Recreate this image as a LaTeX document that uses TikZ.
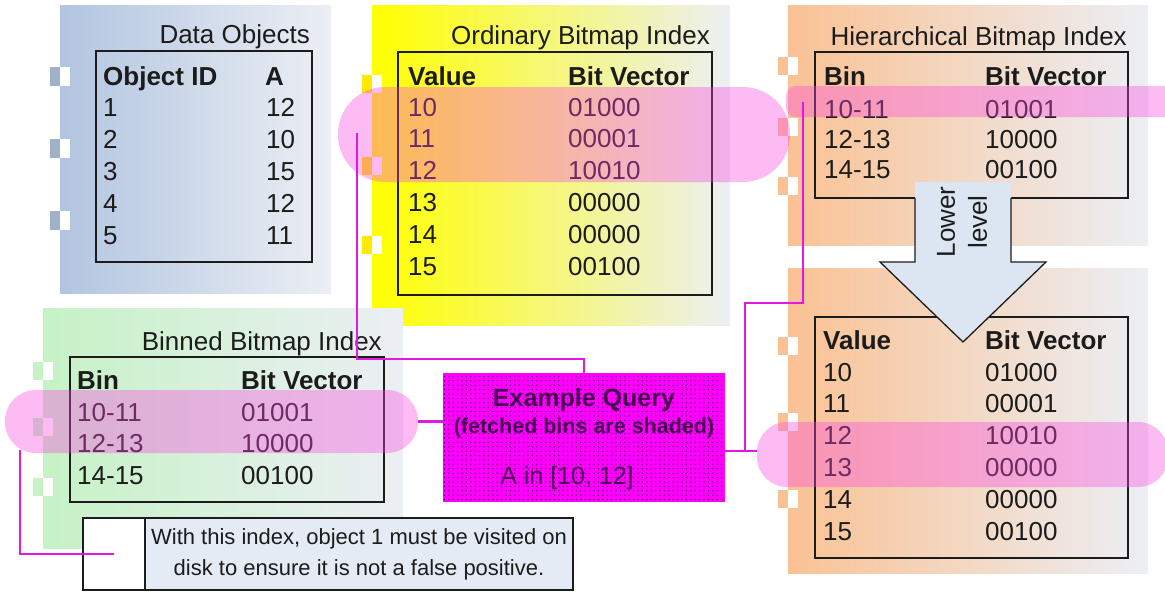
\documentclass[tikz,border=0pt]{standalone}
\usepackage{fontspec}
\setmainfont{Liberation Sans}
\usetikzlibrary{patterns.meta}

\definecolor{ink}{RGB}{28,28,28}
\definecolor{panelend}{RGB}{236,239,244}
\definecolor{bluepanel}{RGB}{178,197,224}
\definecolor{greenpanel}{RGB}{198,242,198}
\definecolor{peachpanel}{RGB}{250,194,148}
\definecolor{yellowpanel}{RGB}{255,255,0}
\definecolor{pillpink}{RGB}{250,70,225}
\definecolor{wirem}{RGB}{225,25,225}
\definecolor{querym}{RGB}{255,0,255}
\definecolor{querytext}{RGB}{70,0,80}
\definecolor{querydot}{RGB}{90,0,100}
\definecolor{arrowfill}{RGB}{220,230,243}
\definecolor{notefill}{RGB}{229,235,245}

\newcommand\fsBig{\fontsize{26}{32}\selectfont}
\newcommand\fsNote{\fontsize{22}{31}\selectfont}

\begin{document}
\begin{tikzpicture}[x=1pt,y=-1pt,
  cell/.style={anchor=base west, inner sep=0pt, font=\fsBig, text=ink},
  headcell/.style={cell, font=\fsBig\bfseries},
  paneltitle/.style={anchor=base east, inner sep=0pt, font=\fsBig, text=ink},
  tablebox/.style={draw=ink, line width=1.5pt},
  pill/.style={fill=pillpink, fill opacity=0.37, draw=none, inner sep=0pt},
  wire/.style={draw=wirem, line width=2.4pt}
]
\useasboundingbox (0,0) rectangle (1165,592);
\clip (0,0) rectangle (1165,592);

% ---------- panel backgrounds ----------
\shade[left color=bluepanel, right color=panelend] (60,5) rectangle (331,293);
\shade[left color=yellowpanel, right color=panelend] (372,5) rectangle (730,325);
\shade[left color=peachpanel, right color=panelend] (788,5) rectangle (1148,245);
\shade[left color=peachpanel, right color=panelend] (788,268) rectangle (1148,573);
\shade[left color=greenpanel, right color=panelend] (43,308) rectangle (403,548);

% ---------- binder tabs on the panel edges ----------
\foreach \ty in {67,139,211}{
  \fill[bluepanel!90!black] (50,\ty) rectangle ++(10,19);
  \fill[white] (60,\ty) rectangle ++(10,19);}
\foreach \ty in {75,157,236}{
  \fill[yellow!92!orange] (362,\ty) rectangle ++(10,18);
  \fill[white] (372,\ty) rectangle ++(10,18);}
\foreach \ty in {57,118,177,337,413,490}{
  \fill[peachpanel] (778,\ty) rectangle ++(10,18);
  \fill[white] (788,\ty) rectangle ++(10,18);}
\foreach \ty in {362,418,478}{
  \fill[greenpanel] (33,\ty) rectangle ++(10,18);
  \fill[white] (43,\ty) rectangle ++(10,18);}

% ---------- table frames ----------
\draw[tablebox] (96,51) rectangle (312,262);
\draw[tablebox] (398,52) rectangle (712,295);
\draw[tablebox] (815,52) rectangle (1128,198);
\draw[tablebox] (815,317) rectangle (1128,558);
\draw[tablebox] (70,357) rectangle (384,502);

% ---------- lower-level arrow ----------
\fill[arrowfill] (915,182) -- (1011,182) -- (1011,262) -- (1046,262) -- (963,342)
  -- (880,262) -- (915,262) -- cycle;
\draw[ink, line width=1.3pt, line join=miter] (915,198) -- (915,262) -- (880,262) -- (963,342)
  -- (1046,262) -- (1011,262) -- (1011,198);
\node[rotate=90, align=center, font=\fsBig, text=ink, inner sep=0pt] (lowlbl) at (962,222) {Lower\\level};

% ---------- Data Objects ----------
\node[paneltitle] (dtitle) at (310,43) {Data Objects};
\node[headcell] (dh1) at (103,85) {Object ID};
\node[headcell] (dh2) at (265,85) {A};
\foreach \id/\val [count=\k from 0] in {1/12,2/10,3/15,4/12,5/11}{
  \node[cell] (did\k) at (103,116+32*\k) {\id};
  \node[cell] (dval\k) at (266,116+32*\k) {\val};}

% ---------- Ordinary Bitmap Index ----------
\node[paneltitle] (otitle) at (710,44) {Ordinary Bitmap Index};
\node[headcell] (oh1) at (408,85) {Value};
\node[headcell] (oh2) at (568,85) {Bit Vector};
\foreach \v/\b [count=\k from 0] in {10/01000,11/00001,12/10010,13/00000,14/00000,15/00100}{
  \node[cell] (ov\k) at (408,116+31.8*\k) {\v};
  \node[cell] (ob\k) at (568,116+31.8*\k) {\b};}

% ---------- Hierarchical Bitmap Index, upper level ----------
\node[paneltitle] (htitle) at (1127,45) {Hierarchical Bitmap Index};
\node[headcell] (hh1) at (824,85) {Bin};
\node[headcell] (hh2) at (985,85) {Bit Vector};
\foreach \v/\b [count=\k from 0] in {10-11/01001,12-13/10000,14-15/00100}{
  \node[cell] (hv\k) at (824,118+30*\k) {\v};
  \node[cell] (hb\k) at (985,118+30*\k) {\b};}

% ---------- Hierarchical Bitmap Index, lower level ----------
\node[headcell] (lh1) at (823,349) {Value};
\node[headcell] (lh2) at (985,349) {Bit Vector};
\foreach \v/\b [count=\k from 0] in {10/01000,11/00001,12/10010,13/00000,14/00000,15/00100}{
  \node[cell] (lv\k) at (823,381+31.8*\k) {\v};
  \node[cell] (lb\k) at (985,381+31.8*\k) {\b};}

% ---------- Binned Bitmap Index ----------
\node[paneltitle] (btitle) at (382,350) {Binned Bitmap Index};
\node[headcell] (bh1) at (77,389) {Bin};
\node[headcell] (bh2) at (241,389) {Bit Vector};
\foreach \v/\b [count=\k from 0] in {10-11/01001,12-13/10000,14-15/00100}{
  \node[cell] (bv\k) at (77,421+31.8*\k) {\v};
  \node[cell] (bb\k) at (241,421+31.8*\k) {\b};}

% ---------- fetched bins ----------
\node[pill, minimum width=452pt, minimum height=95pt, rounded corners=47pt] (ordpill) at (564,134.5) {};
\node[pill, minimum width=400pt, minimum height=31pt, rounded corners=10pt] (hpill) at (986,101.5) {};
\node[pill, minimum width=411pt, minimum height=65pt, rounded corners=30pt] (lpill) at (962.5,454.5) {};
\node[pill, minimum width=413pt, minimum height=63pt, rounded corners=31pt] (bpill) at (211.5,421.5) {};

% ---------- example query ----------
\node[fill=querym, minimum width=282pt, minimum height=129pt, inner sep=0pt,
      postaction={pattern={Dots[distance=4.4pt, radius=0.8pt]}, pattern color=querydot}]
      (query) at (584,437.5) {};
\node[font=\fontsize{25}{30}\selectfont\bfseries, text=querytext, inner sep=0pt] (qtitle) at (584,400) {Example Query};
\node[font=\fontsize{21.5}{26}\selectfont\bfseries, text=querytext, inner sep=0pt] (qsub) at (584,428) {(fetched bins are shaded)};
\node[font=\fontsize{25}{30}\selectfont, text=querytext, inner sep=0pt] (qcond) at (567,478) {A in [10, 12]};

% ---------- note ----------
\node[draw=ink, line width=1.2pt, fill=white, minimum width=62pt, minimum height=72pt, inner sep=0pt] (notecell) at (114,554) {};
\node[draw=ink, line width=1.2pt, fill=notefill, minimum width=428pt, minimum height=72pt, inner sep=0pt,
      align=center, font=\fsNote, text=ink] (note) at (359,554)
      {With this index, object 1 must be visited on\\disk to ensure it is not a false positive.};

% ---------- connectors ----------
\coordinate (ordtap) at (357,133);
\coordinate (htap) at (803,102);
\coordinate (btap) at (20,450);
\coordinate (qjoin) at (745,451);
\draw[wire] (ordtap) -- (357,359) -| (query.north);
\draw[wire] (bpill.east) -- (query.west |- bpill.east);
\draw[wire] (btap) |- (notecell.center);
\draw[wire] (query.east |- qjoin) -- (lpill.west |- qjoin);
\draw[wire] (qjoin) -- (745,303) -| (htap);
\end{tikzpicture}
\end{document}
